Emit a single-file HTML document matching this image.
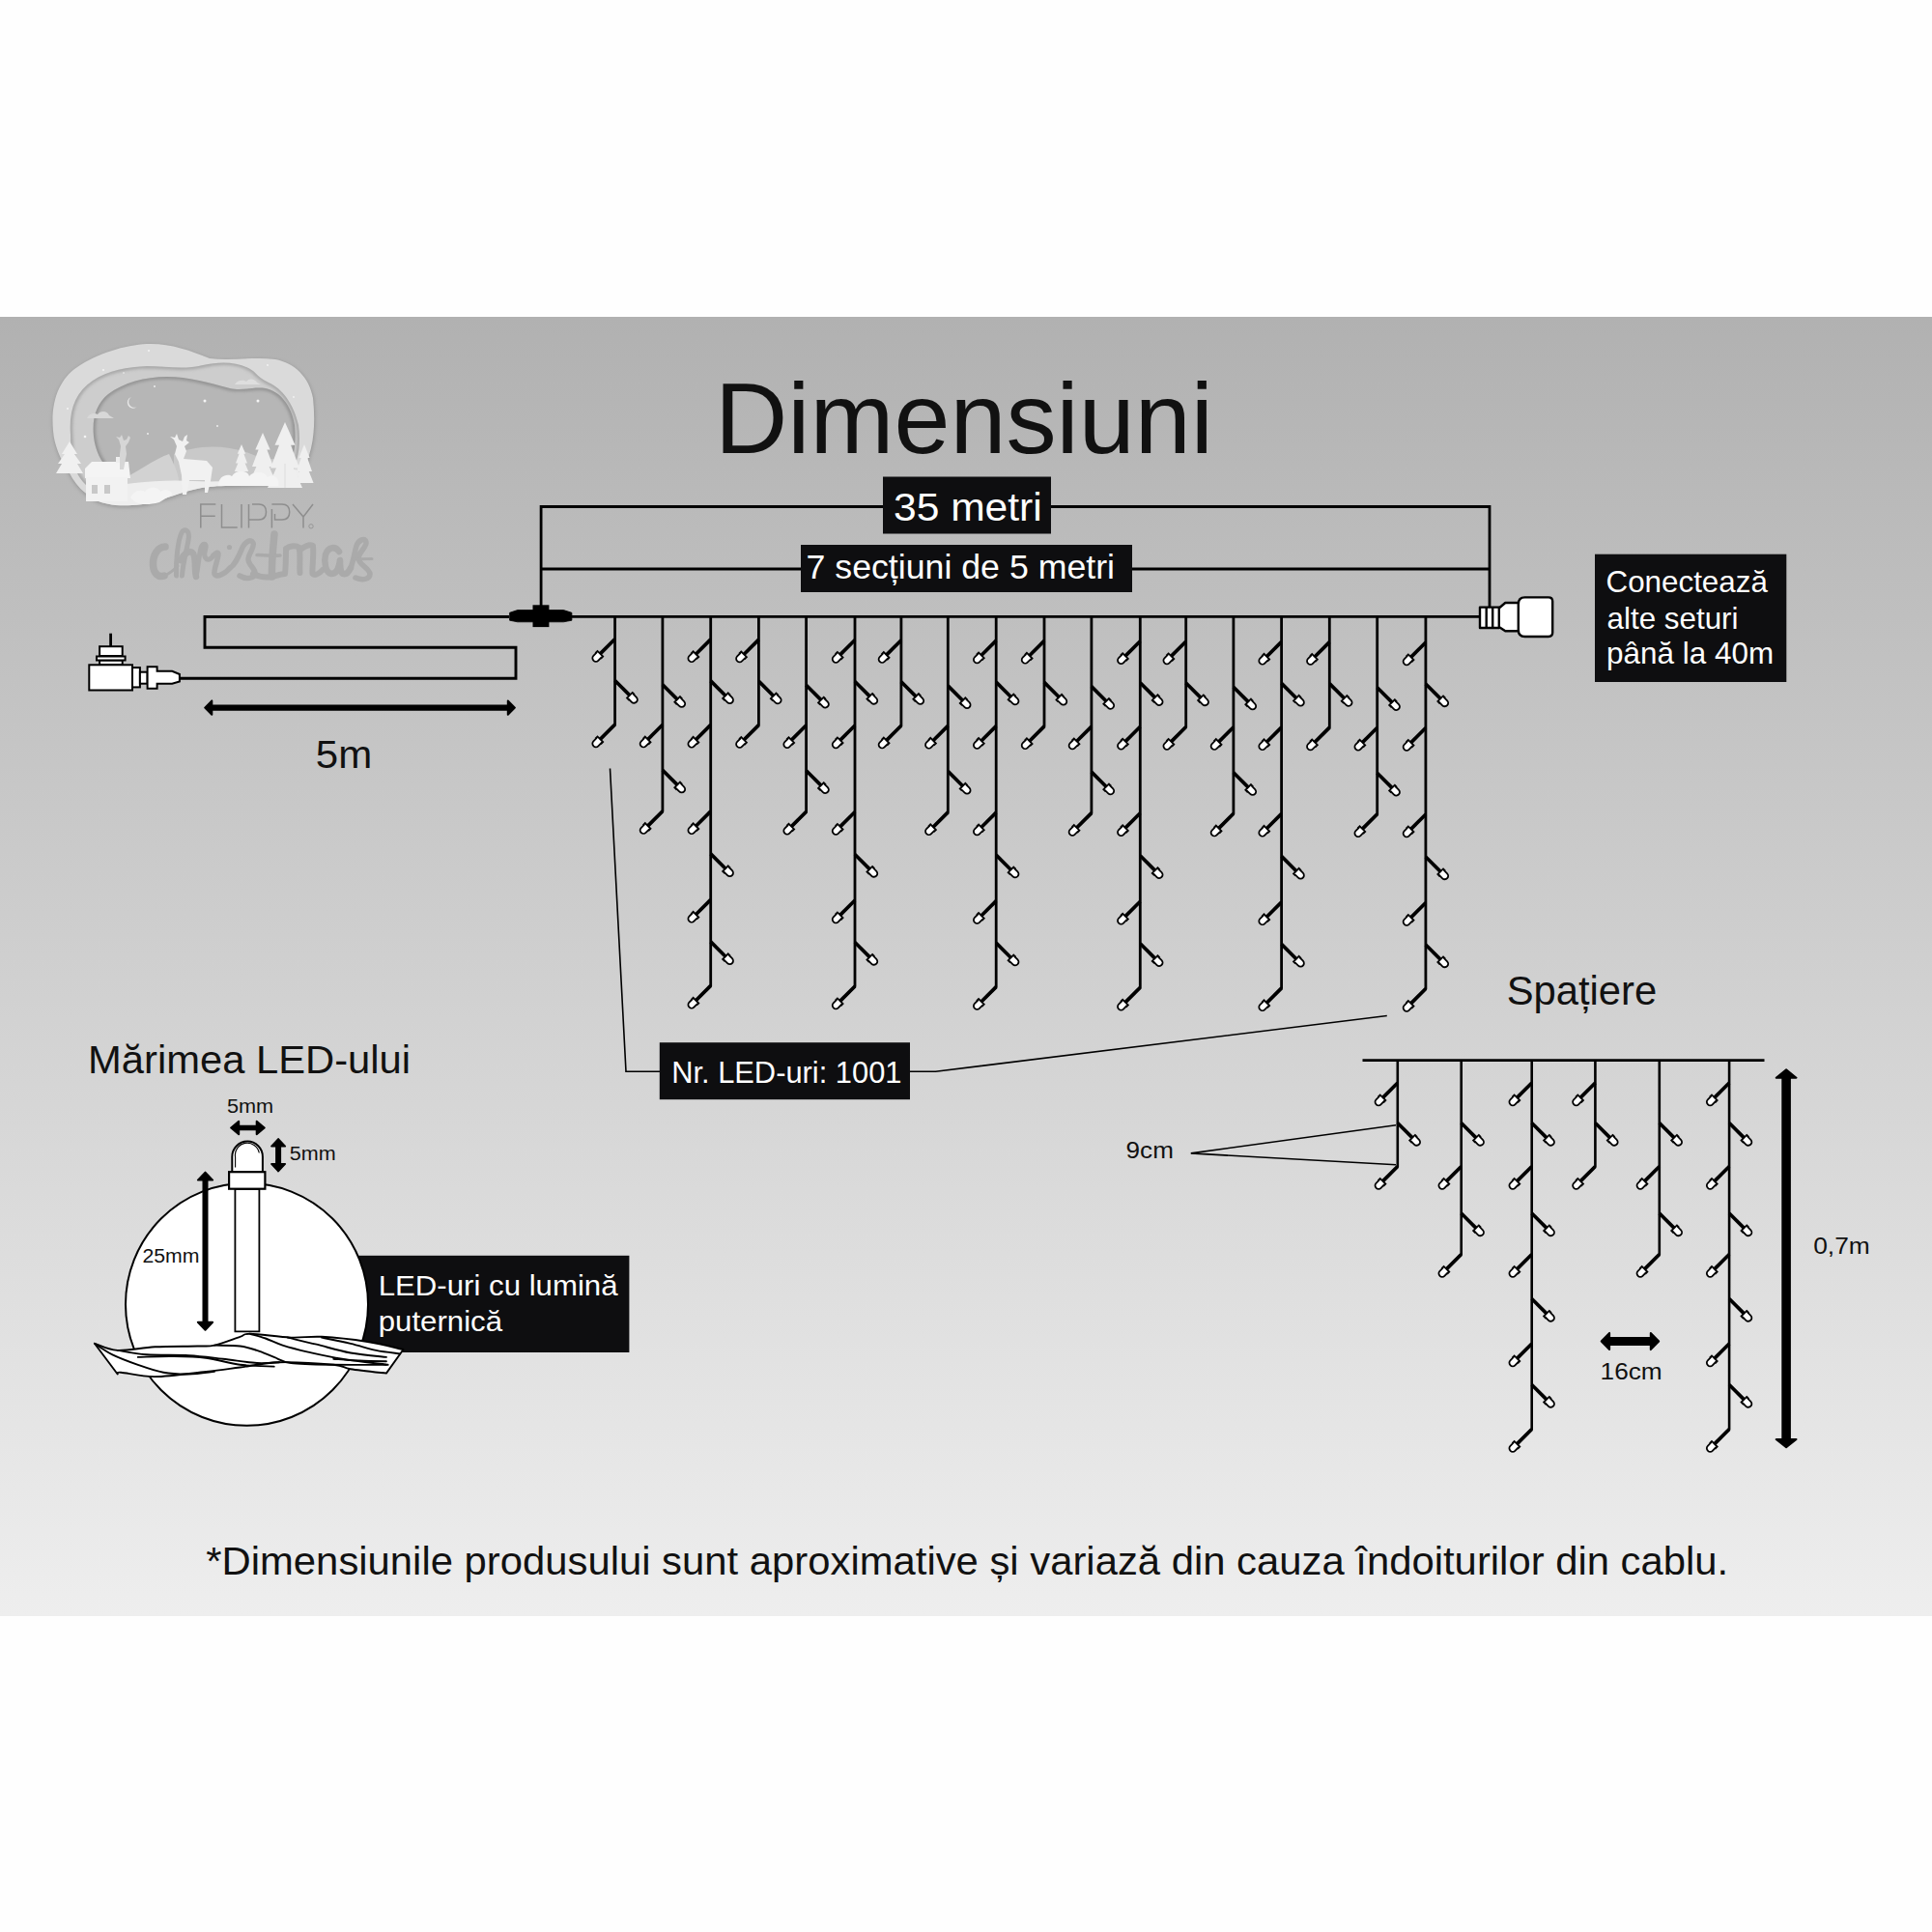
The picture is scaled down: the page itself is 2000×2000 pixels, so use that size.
<!DOCTYPE html>
<html><head><meta charset="utf-8"><style>
html,body{margin:0;padding:0;background:#fefefe;}
svg{display:block;}
text{font-family:"Liberation Sans", sans-serif;}
</style></head><body>
<svg width="2000" height="2000" viewBox="0 0 2000 2000">
<defs><linearGradient id="bg" x1="0" y1="0" x2="0" y2="1"><stop offset="0" stop-color="#b1b1b1"/><stop offset="1" stop-color="#eeeeee"/></linearGradient></defs><rect x="0" y="0" width="2000" height="2000" fill="#fefefe"/><rect x="0" y="328" width="2000" height="1345" fill="url(#bg)"/><text x="740.04" y="469.0" font-size="103.5" fill="#111" textLength="515.87" lengthAdjust="spacingAndGlyphs">Dimensiuni</text><path d="M560.1,638 V524.5 H1542 V630" fill="none" stroke="#000" stroke-width="2.8"/><line x1="560" y1="589" x2="1542" y2="589" stroke="#000" stroke-width="2.8"/><rect x="914" y="493.5" width="174" height="59" fill="#0e0e10"/><text x="925.02" y="538.5" font-size="41" fill="#fff" textLength="153.7" lengthAdjust="spacingAndGlyphs">35 metri</text><rect x="829" y="564" width="343" height="49" fill="#0e0e10"/><text x="834.53" y="599.0" font-size="34.5" fill="#fff" textLength="319.5" lengthAdjust="spacingAndGlyphs">7 secțiuni de 5 metri</text><path d="M527,638.5 H212 V670.3 H534 V702.2 H186" fill="none" stroke="#000" stroke-width="2.9" stroke-linejoin="miter"/><line x1="590" y1="638.4" x2="1533" y2="638.4" stroke="#000" stroke-width="2.9"/><path d="M527.6,634.3 L535.7,631.6 H583.4 L591.9,634.3 V642.2 L583.4,643.8 H535.7 L527.6,642.2 Z" fill="#000" stroke="#000" stroke-width="0.8" stroke-linejoin="round"/><rect x="551.5" y="626.3" width="16.9" height="22.8" fill="#000"/><g fill="#fff" stroke="#000" stroke-width="2"><line x1="114.6" y1="655.7" x2="114.6" y2="669" stroke-width="2.8"/><rect x="103.1" y="669.2" width="23.6" height="9.8"/><rect x="103.1" y="683.5" width="23.6" height="4.5"/><rect x="100" y="679.5" width="29.6" height="4"/><rect x="92.3" y="688.3" width="44.7" height="26.2"/><rect x="137" y="691.1" width="7.9" height="20.3"/><rect x="144.9" y="695.7" width="7.7" height="12"/><path d="M152.6,690.3 H162.6 V694.8 H178.2 L185.9,698 V705.4 L178.2,707.7 H162.6 V712.8 H152.6 Z"/></g><path d="M212.20,732.60 L219.30,725.40 L219.30,730.55 L525.80,730.55 L525.80,725.40 L532.90,732.60 L525.80,739.80 L525.80,734.65 L219.30,734.65 L219.30,739.80 Z" fill="#000" stroke="#000" stroke-width="2.0" stroke-linejoin="round"/><text x="326.82" y="795.4" font-size="40.5" fill="#111" textLength="58.43" lengthAdjust="spacingAndGlyphs">5m</text><g fill="#fff" stroke="#000" stroke-width="2.4" stroke-linejoin="round"><path d="M1578.5,618.4 H1603 Q1607.2,618.4 1607.2,622.6 V654.8 Q1607.2,659 1603,659 H1578.5 Q1571.8,659 1571.8,652 V625.4 Q1571.8,618.4 1578.5,618.4 Z"/><path d="M1551.8,629.5 L1558.3,624 H1571.8 V653.3 H1558.3 L1551.8,649 Z"/><rect x="1532" y="628.6" width="19.8" height="21.4"/><line x1="1538.7" y1="628.6" x2="1538.7" y2="650"/><line x1="1545.2" y1="628.6" x2="1545.2" y2="650"/></g><rect x="1651" y="573.7" width="198.3" height="132.3" fill="#0e0e10"/><text x="1662.54" y="612.6" font-size="30.5" fill="#fff" textLength="167.33" lengthAdjust="spacingAndGlyphs">Conectează</text><text x="1663.57" y="650.6" font-size="30.5" fill="#fff" textLength="135.92" lengthAdjust="spacingAndGlyphs">alte seturi</text><text x="1663.14" y="687.1" font-size="30.5" fill="#fff" textLength="172.99" lengthAdjust="spacingAndGlyphs">până la 40m</text><path d="M636.6,638.3 V750.0 L621.6,765.0" fill="none" stroke="#000" stroke-width="2.8" stroke-linejoin="miter"/><g transform="translate(636.6,661.5) rotate(135)"><line x1="0" y1="0" x2="22.1" y2="0" stroke="#000" stroke-width="3.7"/><path d="M21.6,-4 h2.2 V-3.5 h4.2 a3.4,3.4 0 0 1 3.4,3.4 V-0.1 a3.4,3.4 0 0 1 -3.4,3.6 h-4.2 V4 h-2.2 Z" fill="#fff" stroke="#000" stroke-width="1.8" stroke-linejoin="miter"/></g><g transform="translate(636.6,704.5) rotate(45)"><line x1="0" y1="0" x2="22.1" y2="0" stroke="#000" stroke-width="3.7"/><path d="M21.6,-4 h2.2 V-3.5 h4.2 a3.4,3.4 0 0 1 3.4,3.4 V-0.1 a3.4,3.4 0 0 1 -3.4,3.6 h-4.2 V4 h-2.2 Z" fill="#fff" stroke="#000" stroke-width="1.8" stroke-linejoin="miter"/></g><g transform="translate(636.6,750.0) rotate(135)"><line x1="0" y1="0" x2="22.1" y2="0" stroke="#000" stroke-width="3.7"/><path d="M21.6,-4 h2.2 V-3.5 h4.2 a3.4,3.4 0 0 1 3.4,3.4 V-0.1 a3.4,3.4 0 0 1 -3.4,3.6 h-4.2 V4 h-2.2 Z" fill="#fff" stroke="#000" stroke-width="1.8" stroke-linejoin="miter"/></g><path d="M685.9,638.3 V839.7 L670.9,854.7" fill="none" stroke="#000" stroke-width="2.8" stroke-linejoin="miter"/><g transform="translate(685.9,708.7) rotate(45)"><line x1="0" y1="0" x2="22.1" y2="0" stroke="#000" stroke-width="3.7"/><path d="M21.6,-4 h2.2 V-3.5 h4.2 a3.4,3.4 0 0 1 3.4,3.4 V-0.1 a3.4,3.4 0 0 1 -3.4,3.6 h-4.2 V4 h-2.2 Z" fill="#fff" stroke="#000" stroke-width="1.8" stroke-linejoin="miter"/></g><g transform="translate(685.9,750.2) rotate(135)"><line x1="0" y1="0" x2="22.1" y2="0" stroke="#000" stroke-width="3.7"/><path d="M21.6,-4 h2.2 V-3.5 h4.2 a3.4,3.4 0 0 1 3.4,3.4 V-0.1 a3.4,3.4 0 0 1 -3.4,3.6 h-4.2 V4 h-2.2 Z" fill="#fff" stroke="#000" stroke-width="1.8" stroke-linejoin="miter"/></g><g transform="translate(685.9,797.2) rotate(45)"><line x1="0" y1="0" x2="22.1" y2="0" stroke="#000" stroke-width="3.7"/><path d="M21.6,-4 h2.2 V-3.5 h4.2 a3.4,3.4 0 0 1 3.4,3.4 V-0.1 a3.4,3.4 0 0 1 -3.4,3.6 h-4.2 V4 h-2.2 Z" fill="#fff" stroke="#000" stroke-width="1.8" stroke-linejoin="miter"/></g><g transform="translate(685.9,839.7) rotate(135)"><line x1="0" y1="0" x2="22.1" y2="0" stroke="#000" stroke-width="3.7"/><path d="M21.6,-4 h2.2 V-3.5 h4.2 a3.4,3.4 0 0 1 3.4,3.4 V-0.1 a3.4,3.4 0 0 1 -3.4,3.6 h-4.2 V4 h-2.2 Z" fill="#fff" stroke="#000" stroke-width="1.8" stroke-linejoin="miter"/></g><path d="M735.7,638.3 V1020.4 L720.7,1035.4" fill="none" stroke="#000" stroke-width="2.8" stroke-linejoin="miter"/><g transform="translate(735.7,661.9) rotate(135)"><line x1="0" y1="0" x2="22.1" y2="0" stroke="#000" stroke-width="3.7"/><path d="M21.6,-4 h2.2 V-3.5 h4.2 a3.4,3.4 0 0 1 3.4,3.4 V-0.1 a3.4,3.4 0 0 1 -3.4,3.6 h-4.2 V4 h-2.2 Z" fill="#fff" stroke="#000" stroke-width="1.8" stroke-linejoin="miter"/></g><g transform="translate(735.7,704.9) rotate(45)"><line x1="0" y1="0" x2="22.1" y2="0" stroke="#000" stroke-width="3.7"/><path d="M21.6,-4 h2.2 V-3.5 h4.2 a3.4,3.4 0 0 1 3.4,3.4 V-0.1 a3.4,3.4 0 0 1 -3.4,3.6 h-4.2 V4 h-2.2 Z" fill="#fff" stroke="#000" stroke-width="1.8" stroke-linejoin="miter"/></g><g transform="translate(735.7,750.4) rotate(135)"><line x1="0" y1="0" x2="22.1" y2="0" stroke="#000" stroke-width="3.7"/><path d="M21.6,-4 h2.2 V-3.5 h4.2 a3.4,3.4 0 0 1 3.4,3.4 V-0.1 a3.4,3.4 0 0 1 -3.4,3.6 h-4.2 V4 h-2.2 Z" fill="#fff" stroke="#000" stroke-width="1.8" stroke-linejoin="miter"/></g><g transform="translate(735.7,839.9) rotate(135)"><line x1="0" y1="0" x2="22.1" y2="0" stroke="#000" stroke-width="3.7"/><path d="M21.6,-4 h2.2 V-3.5 h4.2 a3.4,3.4 0 0 1 3.4,3.4 V-0.1 a3.4,3.4 0 0 1 -3.4,3.6 h-4.2 V4 h-2.2 Z" fill="#fff" stroke="#000" stroke-width="1.8" stroke-linejoin="miter"/></g><g transform="translate(735.7,883.9) rotate(45)"><line x1="0" y1="0" x2="22.1" y2="0" stroke="#000" stroke-width="3.7"/><path d="M21.6,-4 h2.2 V-3.5 h4.2 a3.4,3.4 0 0 1 3.4,3.4 V-0.1 a3.4,3.4 0 0 1 -3.4,3.6 h-4.2 V4 h-2.2 Z" fill="#fff" stroke="#000" stroke-width="1.8" stroke-linejoin="miter"/></g><g transform="translate(735.7,931.4) rotate(135)"><line x1="0" y1="0" x2="22.1" y2="0" stroke="#000" stroke-width="3.7"/><path d="M21.6,-4 h2.2 V-3.5 h4.2 a3.4,3.4 0 0 1 3.4,3.4 V-0.1 a3.4,3.4 0 0 1 -3.4,3.6 h-4.2 V4 h-2.2 Z" fill="#fff" stroke="#000" stroke-width="1.8" stroke-linejoin="miter"/></g><g transform="translate(735.7,974.9) rotate(45)"><line x1="0" y1="0" x2="22.1" y2="0" stroke="#000" stroke-width="3.7"/><path d="M21.6,-4 h2.2 V-3.5 h4.2 a3.4,3.4 0 0 1 3.4,3.4 V-0.1 a3.4,3.4 0 0 1 -3.4,3.6 h-4.2 V4 h-2.2 Z" fill="#fff" stroke="#000" stroke-width="1.8" stroke-linejoin="miter"/></g><g transform="translate(735.7,1020.4) rotate(135)"><line x1="0" y1="0" x2="22.1" y2="0" stroke="#000" stroke-width="3.7"/><path d="M21.6,-4 h2.2 V-3.5 h4.2 a3.4,3.4 0 0 1 3.4,3.4 V-0.1 a3.4,3.4 0 0 1 -3.4,3.6 h-4.2 V4 h-2.2 Z" fill="#fff" stroke="#000" stroke-width="1.8" stroke-linejoin="miter"/></g><path d="M785.4,638.3 V750.6 L770.4,765.6" fill="none" stroke="#000" stroke-width="2.8" stroke-linejoin="miter"/><g transform="translate(785.4,662.1) rotate(135)"><line x1="0" y1="0" x2="22.1" y2="0" stroke="#000" stroke-width="3.7"/><path d="M21.6,-4 h2.2 V-3.5 h4.2 a3.4,3.4 0 0 1 3.4,3.4 V-0.1 a3.4,3.4 0 0 1 -3.4,3.6 h-4.2 V4 h-2.2 Z" fill="#fff" stroke="#000" stroke-width="1.8" stroke-linejoin="miter"/></g><g transform="translate(785.4,705.1) rotate(45)"><line x1="0" y1="0" x2="22.1" y2="0" stroke="#000" stroke-width="3.7"/><path d="M21.6,-4 h2.2 V-3.5 h4.2 a3.4,3.4 0 0 1 3.4,3.4 V-0.1 a3.4,3.4 0 0 1 -3.4,3.6 h-4.2 V4 h-2.2 Z" fill="#fff" stroke="#000" stroke-width="1.8" stroke-linejoin="miter"/></g><g transform="translate(785.4,750.6) rotate(135)"><line x1="0" y1="0" x2="22.1" y2="0" stroke="#000" stroke-width="3.7"/><path d="M21.6,-4 h2.2 V-3.5 h4.2 a3.4,3.4 0 0 1 3.4,3.4 V-0.1 a3.4,3.4 0 0 1 -3.4,3.6 h-4.2 V4 h-2.2 Z" fill="#fff" stroke="#000" stroke-width="1.8" stroke-linejoin="miter"/></g><path d="M834.6,638.3 V840.3 L819.6,855.3" fill="none" stroke="#000" stroke-width="2.8" stroke-linejoin="miter"/><g transform="translate(834.6,709.3) rotate(45)"><line x1="0" y1="0" x2="22.1" y2="0" stroke="#000" stroke-width="3.7"/><path d="M21.6,-4 h2.2 V-3.5 h4.2 a3.4,3.4 0 0 1 3.4,3.4 V-0.1 a3.4,3.4 0 0 1 -3.4,3.6 h-4.2 V4 h-2.2 Z" fill="#fff" stroke="#000" stroke-width="1.8" stroke-linejoin="miter"/></g><g transform="translate(834.6,750.8) rotate(135)"><line x1="0" y1="0" x2="22.1" y2="0" stroke="#000" stroke-width="3.7"/><path d="M21.6,-4 h2.2 V-3.5 h4.2 a3.4,3.4 0 0 1 3.4,3.4 V-0.1 a3.4,3.4 0 0 1 -3.4,3.6 h-4.2 V4 h-2.2 Z" fill="#fff" stroke="#000" stroke-width="1.8" stroke-linejoin="miter"/></g><g transform="translate(834.6,797.8) rotate(45)"><line x1="0" y1="0" x2="22.1" y2="0" stroke="#000" stroke-width="3.7"/><path d="M21.6,-4 h2.2 V-3.5 h4.2 a3.4,3.4 0 0 1 3.4,3.4 V-0.1 a3.4,3.4 0 0 1 -3.4,3.6 h-4.2 V4 h-2.2 Z" fill="#fff" stroke="#000" stroke-width="1.8" stroke-linejoin="miter"/></g><g transform="translate(834.6,840.3) rotate(135)"><line x1="0" y1="0" x2="22.1" y2="0" stroke="#000" stroke-width="3.7"/><path d="M21.6,-4 h2.2 V-3.5 h4.2 a3.4,3.4 0 0 1 3.4,3.4 V-0.1 a3.4,3.4 0 0 1 -3.4,3.6 h-4.2 V4 h-2.2 Z" fill="#fff" stroke="#000" stroke-width="1.8" stroke-linejoin="miter"/></g><path d="M885.0,638.3 V1021.0 L870.0,1036.0" fill="none" stroke="#000" stroke-width="2.8" stroke-linejoin="miter"/><g transform="translate(885.0,662.5) rotate(135)"><line x1="0" y1="0" x2="22.1" y2="0" stroke="#000" stroke-width="3.7"/><path d="M21.6,-4 h2.2 V-3.5 h4.2 a3.4,3.4 0 0 1 3.4,3.4 V-0.1 a3.4,3.4 0 0 1 -3.4,3.6 h-4.2 V4 h-2.2 Z" fill="#fff" stroke="#000" stroke-width="1.8" stroke-linejoin="miter"/></g><g transform="translate(885.0,705.5) rotate(45)"><line x1="0" y1="0" x2="22.1" y2="0" stroke="#000" stroke-width="3.7"/><path d="M21.6,-4 h2.2 V-3.5 h4.2 a3.4,3.4 0 0 1 3.4,3.4 V-0.1 a3.4,3.4 0 0 1 -3.4,3.6 h-4.2 V4 h-2.2 Z" fill="#fff" stroke="#000" stroke-width="1.8" stroke-linejoin="miter"/></g><g transform="translate(885.0,751.0) rotate(135)"><line x1="0" y1="0" x2="22.1" y2="0" stroke="#000" stroke-width="3.7"/><path d="M21.6,-4 h2.2 V-3.5 h4.2 a3.4,3.4 0 0 1 3.4,3.4 V-0.1 a3.4,3.4 0 0 1 -3.4,3.6 h-4.2 V4 h-2.2 Z" fill="#fff" stroke="#000" stroke-width="1.8" stroke-linejoin="miter"/></g><g transform="translate(885.0,840.5) rotate(135)"><line x1="0" y1="0" x2="22.1" y2="0" stroke="#000" stroke-width="3.7"/><path d="M21.6,-4 h2.2 V-3.5 h4.2 a3.4,3.4 0 0 1 3.4,3.4 V-0.1 a3.4,3.4 0 0 1 -3.4,3.6 h-4.2 V4 h-2.2 Z" fill="#fff" stroke="#000" stroke-width="1.8" stroke-linejoin="miter"/></g><g transform="translate(885.0,884.5) rotate(45)"><line x1="0" y1="0" x2="22.1" y2="0" stroke="#000" stroke-width="3.7"/><path d="M21.6,-4 h2.2 V-3.5 h4.2 a3.4,3.4 0 0 1 3.4,3.4 V-0.1 a3.4,3.4 0 0 1 -3.4,3.6 h-4.2 V4 h-2.2 Z" fill="#fff" stroke="#000" stroke-width="1.8" stroke-linejoin="miter"/></g><g transform="translate(885.0,932.0) rotate(135)"><line x1="0" y1="0" x2="22.1" y2="0" stroke="#000" stroke-width="3.7"/><path d="M21.6,-4 h2.2 V-3.5 h4.2 a3.4,3.4 0 0 1 3.4,3.4 V-0.1 a3.4,3.4 0 0 1 -3.4,3.6 h-4.2 V4 h-2.2 Z" fill="#fff" stroke="#000" stroke-width="1.8" stroke-linejoin="miter"/></g><g transform="translate(885.0,975.5) rotate(45)"><line x1="0" y1="0" x2="22.1" y2="0" stroke="#000" stroke-width="3.7"/><path d="M21.6,-4 h2.2 V-3.5 h4.2 a3.4,3.4 0 0 1 3.4,3.4 V-0.1 a3.4,3.4 0 0 1 -3.4,3.6 h-4.2 V4 h-2.2 Z" fill="#fff" stroke="#000" stroke-width="1.8" stroke-linejoin="miter"/></g><g transform="translate(885.0,1021.0) rotate(135)"><line x1="0" y1="0" x2="22.1" y2="0" stroke="#000" stroke-width="3.7"/><path d="M21.6,-4 h2.2 V-3.5 h4.2 a3.4,3.4 0 0 1 3.4,3.4 V-0.1 a3.4,3.4 0 0 1 -3.4,3.6 h-4.2 V4 h-2.2 Z" fill="#fff" stroke="#000" stroke-width="1.8" stroke-linejoin="miter"/></g><path d="M932.9,638.3 V751.2 L917.9,766.2" fill="none" stroke="#000" stroke-width="2.8" stroke-linejoin="miter"/><g transform="translate(932.9,662.7) rotate(135)"><line x1="0" y1="0" x2="22.1" y2="0" stroke="#000" stroke-width="3.7"/><path d="M21.6,-4 h2.2 V-3.5 h4.2 a3.4,3.4 0 0 1 3.4,3.4 V-0.1 a3.4,3.4 0 0 1 -3.4,3.6 h-4.2 V4 h-2.2 Z" fill="#fff" stroke="#000" stroke-width="1.8" stroke-linejoin="miter"/></g><g transform="translate(932.9,705.7) rotate(45)"><line x1="0" y1="0" x2="22.1" y2="0" stroke="#000" stroke-width="3.7"/><path d="M21.6,-4 h2.2 V-3.5 h4.2 a3.4,3.4 0 0 1 3.4,3.4 V-0.1 a3.4,3.4 0 0 1 -3.4,3.6 h-4.2 V4 h-2.2 Z" fill="#fff" stroke="#000" stroke-width="1.8" stroke-linejoin="miter"/></g><g transform="translate(932.9,751.2) rotate(135)"><line x1="0" y1="0" x2="22.1" y2="0" stroke="#000" stroke-width="3.7"/><path d="M21.6,-4 h2.2 V-3.5 h4.2 a3.4,3.4 0 0 1 3.4,3.4 V-0.1 a3.4,3.4 0 0 1 -3.4,3.6 h-4.2 V4 h-2.2 Z" fill="#fff" stroke="#000" stroke-width="1.8" stroke-linejoin="miter"/></g><path d="M981.3,638.3 V840.9 L966.3,855.9" fill="none" stroke="#000" stroke-width="2.8" stroke-linejoin="miter"/><g transform="translate(981.3,709.9) rotate(45)"><line x1="0" y1="0" x2="22.1" y2="0" stroke="#000" stroke-width="3.7"/><path d="M21.6,-4 h2.2 V-3.5 h4.2 a3.4,3.4 0 0 1 3.4,3.4 V-0.1 a3.4,3.4 0 0 1 -3.4,3.6 h-4.2 V4 h-2.2 Z" fill="#fff" stroke="#000" stroke-width="1.8" stroke-linejoin="miter"/></g><g transform="translate(981.3,751.4) rotate(135)"><line x1="0" y1="0" x2="22.1" y2="0" stroke="#000" stroke-width="3.7"/><path d="M21.6,-4 h2.2 V-3.5 h4.2 a3.4,3.4 0 0 1 3.4,3.4 V-0.1 a3.4,3.4 0 0 1 -3.4,3.6 h-4.2 V4 h-2.2 Z" fill="#fff" stroke="#000" stroke-width="1.8" stroke-linejoin="miter"/></g><g transform="translate(981.3,798.4) rotate(45)"><line x1="0" y1="0" x2="22.1" y2="0" stroke="#000" stroke-width="3.7"/><path d="M21.6,-4 h2.2 V-3.5 h4.2 a3.4,3.4 0 0 1 3.4,3.4 V-0.1 a3.4,3.4 0 0 1 -3.4,3.6 h-4.2 V4 h-2.2 Z" fill="#fff" stroke="#000" stroke-width="1.8" stroke-linejoin="miter"/></g><g transform="translate(981.3,840.9) rotate(135)"><line x1="0" y1="0" x2="22.1" y2="0" stroke="#000" stroke-width="3.7"/><path d="M21.6,-4 h2.2 V-3.5 h4.2 a3.4,3.4 0 0 1 3.4,3.4 V-0.1 a3.4,3.4 0 0 1 -3.4,3.6 h-4.2 V4 h-2.2 Z" fill="#fff" stroke="#000" stroke-width="1.8" stroke-linejoin="miter"/></g><path d="M1031.2,638.3 V1021.6 L1016.2,1036.6" fill="none" stroke="#000" stroke-width="2.8" stroke-linejoin="miter"/><g transform="translate(1031.2,663.1) rotate(135)"><line x1="0" y1="0" x2="22.1" y2="0" stroke="#000" stroke-width="3.7"/><path d="M21.6,-4 h2.2 V-3.5 h4.2 a3.4,3.4 0 0 1 3.4,3.4 V-0.1 a3.4,3.4 0 0 1 -3.4,3.6 h-4.2 V4 h-2.2 Z" fill="#fff" stroke="#000" stroke-width="1.8" stroke-linejoin="miter"/></g><g transform="translate(1031.2,706.1) rotate(45)"><line x1="0" y1="0" x2="22.1" y2="0" stroke="#000" stroke-width="3.7"/><path d="M21.6,-4 h2.2 V-3.5 h4.2 a3.4,3.4 0 0 1 3.4,3.4 V-0.1 a3.4,3.4 0 0 1 -3.4,3.6 h-4.2 V4 h-2.2 Z" fill="#fff" stroke="#000" stroke-width="1.8" stroke-linejoin="miter"/></g><g transform="translate(1031.2,751.6) rotate(135)"><line x1="0" y1="0" x2="22.1" y2="0" stroke="#000" stroke-width="3.7"/><path d="M21.6,-4 h2.2 V-3.5 h4.2 a3.4,3.4 0 0 1 3.4,3.4 V-0.1 a3.4,3.4 0 0 1 -3.4,3.6 h-4.2 V4 h-2.2 Z" fill="#fff" stroke="#000" stroke-width="1.8" stroke-linejoin="miter"/></g><g transform="translate(1031.2,841.1) rotate(135)"><line x1="0" y1="0" x2="22.1" y2="0" stroke="#000" stroke-width="3.7"/><path d="M21.6,-4 h2.2 V-3.5 h4.2 a3.4,3.4 0 0 1 3.4,3.4 V-0.1 a3.4,3.4 0 0 1 -3.4,3.6 h-4.2 V4 h-2.2 Z" fill="#fff" stroke="#000" stroke-width="1.8" stroke-linejoin="miter"/></g><g transform="translate(1031.2,885.1) rotate(45)"><line x1="0" y1="0" x2="22.1" y2="0" stroke="#000" stroke-width="3.7"/><path d="M21.6,-4 h2.2 V-3.5 h4.2 a3.4,3.4 0 0 1 3.4,3.4 V-0.1 a3.4,3.4 0 0 1 -3.4,3.6 h-4.2 V4 h-2.2 Z" fill="#fff" stroke="#000" stroke-width="1.8" stroke-linejoin="miter"/></g><g transform="translate(1031.2,932.6) rotate(135)"><line x1="0" y1="0" x2="22.1" y2="0" stroke="#000" stroke-width="3.7"/><path d="M21.6,-4 h2.2 V-3.5 h4.2 a3.4,3.4 0 0 1 3.4,3.4 V-0.1 a3.4,3.4 0 0 1 -3.4,3.6 h-4.2 V4 h-2.2 Z" fill="#fff" stroke="#000" stroke-width="1.8" stroke-linejoin="miter"/></g><g transform="translate(1031.2,976.1) rotate(45)"><line x1="0" y1="0" x2="22.1" y2="0" stroke="#000" stroke-width="3.7"/><path d="M21.6,-4 h2.2 V-3.5 h4.2 a3.4,3.4 0 0 1 3.4,3.4 V-0.1 a3.4,3.4 0 0 1 -3.4,3.6 h-4.2 V4 h-2.2 Z" fill="#fff" stroke="#000" stroke-width="1.8" stroke-linejoin="miter"/></g><g transform="translate(1031.2,1021.6) rotate(135)"><line x1="0" y1="0" x2="22.1" y2="0" stroke="#000" stroke-width="3.7"/><path d="M21.6,-4 h2.2 V-3.5 h4.2 a3.4,3.4 0 0 1 3.4,3.4 V-0.1 a3.4,3.4 0 0 1 -3.4,3.6 h-4.2 V4 h-2.2 Z" fill="#fff" stroke="#000" stroke-width="1.8" stroke-linejoin="miter"/></g><path d="M1081.0,638.3 V751.9 L1066.0,766.9" fill="none" stroke="#000" stroke-width="2.8" stroke-linejoin="miter"/><g transform="translate(1081.0,663.4) rotate(135)"><line x1="0" y1="0" x2="22.1" y2="0" stroke="#000" stroke-width="3.7"/><path d="M21.6,-4 h2.2 V-3.5 h4.2 a3.4,3.4 0 0 1 3.4,3.4 V-0.1 a3.4,3.4 0 0 1 -3.4,3.6 h-4.2 V4 h-2.2 Z" fill="#fff" stroke="#000" stroke-width="1.8" stroke-linejoin="miter"/></g><g transform="translate(1081.0,706.4) rotate(45)"><line x1="0" y1="0" x2="22.1" y2="0" stroke="#000" stroke-width="3.7"/><path d="M21.6,-4 h2.2 V-3.5 h4.2 a3.4,3.4 0 0 1 3.4,3.4 V-0.1 a3.4,3.4 0 0 1 -3.4,3.6 h-4.2 V4 h-2.2 Z" fill="#fff" stroke="#000" stroke-width="1.8" stroke-linejoin="miter"/></g><g transform="translate(1081.0,751.9) rotate(135)"><line x1="0" y1="0" x2="22.1" y2="0" stroke="#000" stroke-width="3.7"/><path d="M21.6,-4 h2.2 V-3.5 h4.2 a3.4,3.4 0 0 1 3.4,3.4 V-0.1 a3.4,3.4 0 0 1 -3.4,3.6 h-4.2 V4 h-2.2 Z" fill="#fff" stroke="#000" stroke-width="1.8" stroke-linejoin="miter"/></g><path d="M1129.9,638.3 V841.6 L1114.9,856.6" fill="none" stroke="#000" stroke-width="2.8" stroke-linejoin="miter"/><g transform="translate(1129.9,710.6) rotate(45)"><line x1="0" y1="0" x2="22.1" y2="0" stroke="#000" stroke-width="3.7"/><path d="M21.6,-4 h2.2 V-3.5 h4.2 a3.4,3.4 0 0 1 3.4,3.4 V-0.1 a3.4,3.4 0 0 1 -3.4,3.6 h-4.2 V4 h-2.2 Z" fill="#fff" stroke="#000" stroke-width="1.8" stroke-linejoin="miter"/></g><g transform="translate(1129.9,752.1) rotate(135)"><line x1="0" y1="0" x2="22.1" y2="0" stroke="#000" stroke-width="3.7"/><path d="M21.6,-4 h2.2 V-3.5 h4.2 a3.4,3.4 0 0 1 3.4,3.4 V-0.1 a3.4,3.4 0 0 1 -3.4,3.6 h-4.2 V4 h-2.2 Z" fill="#fff" stroke="#000" stroke-width="1.8" stroke-linejoin="miter"/></g><g transform="translate(1129.9,799.1) rotate(45)"><line x1="0" y1="0" x2="22.1" y2="0" stroke="#000" stroke-width="3.7"/><path d="M21.6,-4 h2.2 V-3.5 h4.2 a3.4,3.4 0 0 1 3.4,3.4 V-0.1 a3.4,3.4 0 0 1 -3.4,3.6 h-4.2 V4 h-2.2 Z" fill="#fff" stroke="#000" stroke-width="1.8" stroke-linejoin="miter"/></g><g transform="translate(1129.9,841.6) rotate(135)"><line x1="0" y1="0" x2="22.1" y2="0" stroke="#000" stroke-width="3.7"/><path d="M21.6,-4 h2.2 V-3.5 h4.2 a3.4,3.4 0 0 1 3.4,3.4 V-0.1 a3.4,3.4 0 0 1 -3.4,3.6 h-4.2 V4 h-2.2 Z" fill="#fff" stroke="#000" stroke-width="1.8" stroke-linejoin="miter"/></g><path d="M1180.3,638.3 V1022.3 L1165.3,1037.3" fill="none" stroke="#000" stroke-width="2.8" stroke-linejoin="miter"/><g transform="translate(1180.3,663.8) rotate(135)"><line x1="0" y1="0" x2="22.1" y2="0" stroke="#000" stroke-width="3.7"/><path d="M21.6,-4 h2.2 V-3.5 h4.2 a3.4,3.4 0 0 1 3.4,3.4 V-0.1 a3.4,3.4 0 0 1 -3.4,3.6 h-4.2 V4 h-2.2 Z" fill="#fff" stroke="#000" stroke-width="1.8" stroke-linejoin="miter"/></g><g transform="translate(1180.3,706.8) rotate(45)"><line x1="0" y1="0" x2="22.1" y2="0" stroke="#000" stroke-width="3.7"/><path d="M21.6,-4 h2.2 V-3.5 h4.2 a3.4,3.4 0 0 1 3.4,3.4 V-0.1 a3.4,3.4 0 0 1 -3.4,3.6 h-4.2 V4 h-2.2 Z" fill="#fff" stroke="#000" stroke-width="1.8" stroke-linejoin="miter"/></g><g transform="translate(1180.3,752.3) rotate(135)"><line x1="0" y1="0" x2="22.1" y2="0" stroke="#000" stroke-width="3.7"/><path d="M21.6,-4 h2.2 V-3.5 h4.2 a3.4,3.4 0 0 1 3.4,3.4 V-0.1 a3.4,3.4 0 0 1 -3.4,3.6 h-4.2 V4 h-2.2 Z" fill="#fff" stroke="#000" stroke-width="1.8" stroke-linejoin="miter"/></g><g transform="translate(1180.3,841.8) rotate(135)"><line x1="0" y1="0" x2="22.1" y2="0" stroke="#000" stroke-width="3.7"/><path d="M21.6,-4 h2.2 V-3.5 h4.2 a3.4,3.4 0 0 1 3.4,3.4 V-0.1 a3.4,3.4 0 0 1 -3.4,3.6 h-4.2 V4 h-2.2 Z" fill="#fff" stroke="#000" stroke-width="1.8" stroke-linejoin="miter"/></g><g transform="translate(1180.3,885.8) rotate(45)"><line x1="0" y1="0" x2="22.1" y2="0" stroke="#000" stroke-width="3.7"/><path d="M21.6,-4 h2.2 V-3.5 h4.2 a3.4,3.4 0 0 1 3.4,3.4 V-0.1 a3.4,3.4 0 0 1 -3.4,3.6 h-4.2 V4 h-2.2 Z" fill="#fff" stroke="#000" stroke-width="1.8" stroke-linejoin="miter"/></g><g transform="translate(1180.3,933.3) rotate(135)"><line x1="0" y1="0" x2="22.1" y2="0" stroke="#000" stroke-width="3.7"/><path d="M21.6,-4 h2.2 V-3.5 h4.2 a3.4,3.4 0 0 1 3.4,3.4 V-0.1 a3.4,3.4 0 0 1 -3.4,3.6 h-4.2 V4 h-2.2 Z" fill="#fff" stroke="#000" stroke-width="1.8" stroke-linejoin="miter"/></g><g transform="translate(1180.3,976.8) rotate(45)"><line x1="0" y1="0" x2="22.1" y2="0" stroke="#000" stroke-width="3.7"/><path d="M21.6,-4 h2.2 V-3.5 h4.2 a3.4,3.4 0 0 1 3.4,3.4 V-0.1 a3.4,3.4 0 0 1 -3.4,3.6 h-4.2 V4 h-2.2 Z" fill="#fff" stroke="#000" stroke-width="1.8" stroke-linejoin="miter"/></g><g transform="translate(1180.3,1022.3) rotate(135)"><line x1="0" y1="0" x2="22.1" y2="0" stroke="#000" stroke-width="3.7"/><path d="M21.6,-4 h2.2 V-3.5 h4.2 a3.4,3.4 0 0 1 3.4,3.4 V-0.1 a3.4,3.4 0 0 1 -3.4,3.6 h-4.2 V4 h-2.2 Z" fill="#fff" stroke="#000" stroke-width="1.8" stroke-linejoin="miter"/></g><path d="M1227.7,638.3 V752.5 L1212.7,767.5" fill="none" stroke="#000" stroke-width="2.8" stroke-linejoin="miter"/><g transform="translate(1227.7,664.0) rotate(135)"><line x1="0" y1="0" x2="22.1" y2="0" stroke="#000" stroke-width="3.7"/><path d="M21.6,-4 h2.2 V-3.5 h4.2 a3.4,3.4 0 0 1 3.4,3.4 V-0.1 a3.4,3.4 0 0 1 -3.4,3.6 h-4.2 V4 h-2.2 Z" fill="#fff" stroke="#000" stroke-width="1.8" stroke-linejoin="miter"/></g><g transform="translate(1227.7,707.0) rotate(45)"><line x1="0" y1="0" x2="22.1" y2="0" stroke="#000" stroke-width="3.7"/><path d="M21.6,-4 h2.2 V-3.5 h4.2 a3.4,3.4 0 0 1 3.4,3.4 V-0.1 a3.4,3.4 0 0 1 -3.4,3.6 h-4.2 V4 h-2.2 Z" fill="#fff" stroke="#000" stroke-width="1.8" stroke-linejoin="miter"/></g><g transform="translate(1227.7,752.5) rotate(135)"><line x1="0" y1="0" x2="22.1" y2="0" stroke="#000" stroke-width="3.7"/><path d="M21.6,-4 h2.2 V-3.5 h4.2 a3.4,3.4 0 0 1 3.4,3.4 V-0.1 a3.4,3.4 0 0 1 -3.4,3.6 h-4.2 V4 h-2.2 Z" fill="#fff" stroke="#000" stroke-width="1.8" stroke-linejoin="miter"/></g><path d="M1276.9,638.3 V842.2 L1261.9,857.2" fill="none" stroke="#000" stroke-width="2.8" stroke-linejoin="miter"/><g transform="translate(1276.9,711.2) rotate(45)"><line x1="0" y1="0" x2="22.1" y2="0" stroke="#000" stroke-width="3.7"/><path d="M21.6,-4 h2.2 V-3.5 h4.2 a3.4,3.4 0 0 1 3.4,3.4 V-0.1 a3.4,3.4 0 0 1 -3.4,3.6 h-4.2 V4 h-2.2 Z" fill="#fff" stroke="#000" stroke-width="1.8" stroke-linejoin="miter"/></g><g transform="translate(1276.9,752.7) rotate(135)"><line x1="0" y1="0" x2="22.1" y2="0" stroke="#000" stroke-width="3.7"/><path d="M21.6,-4 h2.2 V-3.5 h4.2 a3.4,3.4 0 0 1 3.4,3.4 V-0.1 a3.4,3.4 0 0 1 -3.4,3.6 h-4.2 V4 h-2.2 Z" fill="#fff" stroke="#000" stroke-width="1.8" stroke-linejoin="miter"/></g><g transform="translate(1276.9,799.7) rotate(45)"><line x1="0" y1="0" x2="22.1" y2="0" stroke="#000" stroke-width="3.7"/><path d="M21.6,-4 h2.2 V-3.5 h4.2 a3.4,3.4 0 0 1 3.4,3.4 V-0.1 a3.4,3.4 0 0 1 -3.4,3.6 h-4.2 V4 h-2.2 Z" fill="#fff" stroke="#000" stroke-width="1.8" stroke-linejoin="miter"/></g><g transform="translate(1276.9,842.2) rotate(135)"><line x1="0" y1="0" x2="22.1" y2="0" stroke="#000" stroke-width="3.7"/><path d="M21.6,-4 h2.2 V-3.5 h4.2 a3.4,3.4 0 0 1 3.4,3.4 V-0.1 a3.4,3.4 0 0 1 -3.4,3.6 h-4.2 V4 h-2.2 Z" fill="#fff" stroke="#000" stroke-width="1.8" stroke-linejoin="miter"/></g><path d="M1326.6,638.3 V1022.9 L1311.6,1037.9" fill="none" stroke="#000" stroke-width="2.8" stroke-linejoin="miter"/><g transform="translate(1326.6,664.4) rotate(135)"><line x1="0" y1="0" x2="22.1" y2="0" stroke="#000" stroke-width="3.7"/><path d="M21.6,-4 h2.2 V-3.5 h4.2 a3.4,3.4 0 0 1 3.4,3.4 V-0.1 a3.4,3.4 0 0 1 -3.4,3.6 h-4.2 V4 h-2.2 Z" fill="#fff" stroke="#000" stroke-width="1.8" stroke-linejoin="miter"/></g><g transform="translate(1326.6,707.4) rotate(45)"><line x1="0" y1="0" x2="22.1" y2="0" stroke="#000" stroke-width="3.7"/><path d="M21.6,-4 h2.2 V-3.5 h4.2 a3.4,3.4 0 0 1 3.4,3.4 V-0.1 a3.4,3.4 0 0 1 -3.4,3.6 h-4.2 V4 h-2.2 Z" fill="#fff" stroke="#000" stroke-width="1.8" stroke-linejoin="miter"/></g><g transform="translate(1326.6,752.9) rotate(135)"><line x1="0" y1="0" x2="22.1" y2="0" stroke="#000" stroke-width="3.7"/><path d="M21.6,-4 h2.2 V-3.5 h4.2 a3.4,3.4 0 0 1 3.4,3.4 V-0.1 a3.4,3.4 0 0 1 -3.4,3.6 h-4.2 V4 h-2.2 Z" fill="#fff" stroke="#000" stroke-width="1.8" stroke-linejoin="miter"/></g><g transform="translate(1326.6,842.4) rotate(135)"><line x1="0" y1="0" x2="22.1" y2="0" stroke="#000" stroke-width="3.7"/><path d="M21.6,-4 h2.2 V-3.5 h4.2 a3.4,3.4 0 0 1 3.4,3.4 V-0.1 a3.4,3.4 0 0 1 -3.4,3.6 h-4.2 V4 h-2.2 Z" fill="#fff" stroke="#000" stroke-width="1.8" stroke-linejoin="miter"/></g><g transform="translate(1326.6,886.4) rotate(45)"><line x1="0" y1="0" x2="22.1" y2="0" stroke="#000" stroke-width="3.7"/><path d="M21.6,-4 h2.2 V-3.5 h4.2 a3.4,3.4 0 0 1 3.4,3.4 V-0.1 a3.4,3.4 0 0 1 -3.4,3.6 h-4.2 V4 h-2.2 Z" fill="#fff" stroke="#000" stroke-width="1.8" stroke-linejoin="miter"/></g><g transform="translate(1326.6,933.9) rotate(135)"><line x1="0" y1="0" x2="22.1" y2="0" stroke="#000" stroke-width="3.7"/><path d="M21.6,-4 h2.2 V-3.5 h4.2 a3.4,3.4 0 0 1 3.4,3.4 V-0.1 a3.4,3.4 0 0 1 -3.4,3.6 h-4.2 V4 h-2.2 Z" fill="#fff" stroke="#000" stroke-width="1.8" stroke-linejoin="miter"/></g><g transform="translate(1326.6,977.4) rotate(45)"><line x1="0" y1="0" x2="22.1" y2="0" stroke="#000" stroke-width="3.7"/><path d="M21.6,-4 h2.2 V-3.5 h4.2 a3.4,3.4 0 0 1 3.4,3.4 V-0.1 a3.4,3.4 0 0 1 -3.4,3.6 h-4.2 V4 h-2.2 Z" fill="#fff" stroke="#000" stroke-width="1.8" stroke-linejoin="miter"/></g><g transform="translate(1326.6,1022.9) rotate(135)"><line x1="0" y1="0" x2="22.1" y2="0" stroke="#000" stroke-width="3.7"/><path d="M21.6,-4 h2.2 V-3.5 h4.2 a3.4,3.4 0 0 1 3.4,3.4 V-0.1 a3.4,3.4 0 0 1 -3.4,3.6 h-4.2 V4 h-2.2 Z" fill="#fff" stroke="#000" stroke-width="1.8" stroke-linejoin="miter"/></g><path d="M1376.3,638.3 V753.1 L1361.3,768.1" fill="none" stroke="#000" stroke-width="2.8" stroke-linejoin="miter"/><g transform="translate(1376.3,664.6) rotate(135)"><line x1="0" y1="0" x2="22.1" y2="0" stroke="#000" stroke-width="3.7"/><path d="M21.6,-4 h2.2 V-3.5 h4.2 a3.4,3.4 0 0 1 3.4,3.4 V-0.1 a3.4,3.4 0 0 1 -3.4,3.6 h-4.2 V4 h-2.2 Z" fill="#fff" stroke="#000" stroke-width="1.8" stroke-linejoin="miter"/></g><g transform="translate(1376.3,707.6) rotate(45)"><line x1="0" y1="0" x2="22.1" y2="0" stroke="#000" stroke-width="3.7"/><path d="M21.6,-4 h2.2 V-3.5 h4.2 a3.4,3.4 0 0 1 3.4,3.4 V-0.1 a3.4,3.4 0 0 1 -3.4,3.6 h-4.2 V4 h-2.2 Z" fill="#fff" stroke="#000" stroke-width="1.8" stroke-linejoin="miter"/></g><g transform="translate(1376.3,753.1) rotate(135)"><line x1="0" y1="0" x2="22.1" y2="0" stroke="#000" stroke-width="3.7"/><path d="M21.6,-4 h2.2 V-3.5 h4.2 a3.4,3.4 0 0 1 3.4,3.4 V-0.1 a3.4,3.4 0 0 1 -3.4,3.6 h-4.2 V4 h-2.2 Z" fill="#fff" stroke="#000" stroke-width="1.8" stroke-linejoin="miter"/></g><path d="M1425.7,638.3 V842.8 L1410.7,857.8" fill="none" stroke="#000" stroke-width="2.8" stroke-linejoin="miter"/><g transform="translate(1425.7,711.8) rotate(45)"><line x1="0" y1="0" x2="22.1" y2="0" stroke="#000" stroke-width="3.7"/><path d="M21.6,-4 h2.2 V-3.5 h4.2 a3.4,3.4 0 0 1 3.4,3.4 V-0.1 a3.4,3.4 0 0 1 -3.4,3.6 h-4.2 V4 h-2.2 Z" fill="#fff" stroke="#000" stroke-width="1.8" stroke-linejoin="miter"/></g><g transform="translate(1425.7,753.3) rotate(135)"><line x1="0" y1="0" x2="22.1" y2="0" stroke="#000" stroke-width="3.7"/><path d="M21.6,-4 h2.2 V-3.5 h4.2 a3.4,3.4 0 0 1 3.4,3.4 V-0.1 a3.4,3.4 0 0 1 -3.4,3.6 h-4.2 V4 h-2.2 Z" fill="#fff" stroke="#000" stroke-width="1.8" stroke-linejoin="miter"/></g><g transform="translate(1425.7,800.3) rotate(45)"><line x1="0" y1="0" x2="22.1" y2="0" stroke="#000" stroke-width="3.7"/><path d="M21.6,-4 h2.2 V-3.5 h4.2 a3.4,3.4 0 0 1 3.4,3.4 V-0.1 a3.4,3.4 0 0 1 -3.4,3.6 h-4.2 V4 h-2.2 Z" fill="#fff" stroke="#000" stroke-width="1.8" stroke-linejoin="miter"/></g><g transform="translate(1425.7,842.8) rotate(135)"><line x1="0" y1="0" x2="22.1" y2="0" stroke="#000" stroke-width="3.7"/><path d="M21.6,-4 h2.2 V-3.5 h4.2 a3.4,3.4 0 0 1 3.4,3.4 V-0.1 a3.4,3.4 0 0 1 -3.4,3.6 h-4.2 V4 h-2.2 Z" fill="#fff" stroke="#000" stroke-width="1.8" stroke-linejoin="miter"/></g><path d="M1475.9,638.3 V1023.5 L1460.9,1038.5" fill="none" stroke="#000" stroke-width="2.8" stroke-linejoin="miter"/><g transform="translate(1475.9,665.0) rotate(135)"><line x1="0" y1="0" x2="22.1" y2="0" stroke="#000" stroke-width="3.7"/><path d="M21.6,-4 h2.2 V-3.5 h4.2 a3.4,3.4 0 0 1 3.4,3.4 V-0.1 a3.4,3.4 0 0 1 -3.4,3.6 h-4.2 V4 h-2.2 Z" fill="#fff" stroke="#000" stroke-width="1.8" stroke-linejoin="miter"/></g><g transform="translate(1475.9,708.0) rotate(45)"><line x1="0" y1="0" x2="22.1" y2="0" stroke="#000" stroke-width="3.7"/><path d="M21.6,-4 h2.2 V-3.5 h4.2 a3.4,3.4 0 0 1 3.4,3.4 V-0.1 a3.4,3.4 0 0 1 -3.4,3.6 h-4.2 V4 h-2.2 Z" fill="#fff" stroke="#000" stroke-width="1.8" stroke-linejoin="miter"/></g><g transform="translate(1475.9,753.5) rotate(135)"><line x1="0" y1="0" x2="22.1" y2="0" stroke="#000" stroke-width="3.7"/><path d="M21.6,-4 h2.2 V-3.5 h4.2 a3.4,3.4 0 0 1 3.4,3.4 V-0.1 a3.4,3.4 0 0 1 -3.4,3.6 h-4.2 V4 h-2.2 Z" fill="#fff" stroke="#000" stroke-width="1.8" stroke-linejoin="miter"/></g><g transform="translate(1475.9,843.0) rotate(135)"><line x1="0" y1="0" x2="22.1" y2="0" stroke="#000" stroke-width="3.7"/><path d="M21.6,-4 h2.2 V-3.5 h4.2 a3.4,3.4 0 0 1 3.4,3.4 V-0.1 a3.4,3.4 0 0 1 -3.4,3.6 h-4.2 V4 h-2.2 Z" fill="#fff" stroke="#000" stroke-width="1.8" stroke-linejoin="miter"/></g><g transform="translate(1475.9,887.0) rotate(45)"><line x1="0" y1="0" x2="22.1" y2="0" stroke="#000" stroke-width="3.7"/><path d="M21.6,-4 h2.2 V-3.5 h4.2 a3.4,3.4 0 0 1 3.4,3.4 V-0.1 a3.4,3.4 0 0 1 -3.4,3.6 h-4.2 V4 h-2.2 Z" fill="#fff" stroke="#000" stroke-width="1.8" stroke-linejoin="miter"/></g><g transform="translate(1475.9,934.5) rotate(135)"><line x1="0" y1="0" x2="22.1" y2="0" stroke="#000" stroke-width="3.7"/><path d="M21.6,-4 h2.2 V-3.5 h4.2 a3.4,3.4 0 0 1 3.4,3.4 V-0.1 a3.4,3.4 0 0 1 -3.4,3.6 h-4.2 V4 h-2.2 Z" fill="#fff" stroke="#000" stroke-width="1.8" stroke-linejoin="miter"/></g><g transform="translate(1475.9,978.0) rotate(45)"><line x1="0" y1="0" x2="22.1" y2="0" stroke="#000" stroke-width="3.7"/><path d="M21.6,-4 h2.2 V-3.5 h4.2 a3.4,3.4 0 0 1 3.4,3.4 V-0.1 a3.4,3.4 0 0 1 -3.4,3.6 h-4.2 V4 h-2.2 Z" fill="#fff" stroke="#000" stroke-width="1.8" stroke-linejoin="miter"/></g><g transform="translate(1475.9,1023.5) rotate(135)"><line x1="0" y1="0" x2="22.1" y2="0" stroke="#000" stroke-width="3.7"/><path d="M21.6,-4 h2.2 V-3.5 h4.2 a3.4,3.4 0 0 1 3.4,3.4 V-0.1 a3.4,3.4 0 0 1 -3.4,3.6 h-4.2 V4 h-2.2 Z" fill="#fff" stroke="#000" stroke-width="1.8" stroke-linejoin="miter"/></g><path d="M631.5,795.5 L648,1109.2 H683" fill="none" stroke="#000" stroke-width="1.6"/><path d="M942,1109.2 H968.5 L1435.8,1051.5" fill="none" stroke="#000" stroke-width="1.6"/><rect x="682.8" y="1079.2" width="259.2" height="59" fill="#0e0e10"/><text x="695.15" y="1120.5" font-size="31.4" fill="#fff" textLength="238.34" lengthAdjust="spacingAndGlyphs">Nr. LED-uri: 1001</text><text x="1559.63" y="1040.1" font-size="42.5" fill="#111" textLength="155.64" lengthAdjust="spacingAndGlyphs">Spațiere</text><line x1="1410.5" y1="1097.6" x2="1826.5" y2="1097.6" stroke="#000" stroke-width="2.6"/><path d="M1446.8,1097.6 V1207.5 L1431.8,1222.5" fill="none" stroke="#000" stroke-width="2.6" stroke-linejoin="miter"/><g transform="translate(1446.8,1121.0) rotate(135)"><line x1="0" y1="0" x2="22.1" y2="0" stroke="#000" stroke-width="3.7"/><path d="M21.6,-4 h2.2 V-3.5 h4.2 a3.4,3.4 0 0 1 3.4,3.4 V-0.1 a3.4,3.4 0 0 1 -3.4,3.6 h-4.2 V4 h-2.2 Z" fill="#fff" stroke="#000" stroke-width="1.8" stroke-linejoin="miter"/></g><g transform="translate(1446.8,1162.5) rotate(45)"><line x1="0" y1="0" x2="22.1" y2="0" stroke="#000" stroke-width="3.7"/><path d="M21.6,-4 h2.2 V-3.5 h4.2 a3.4,3.4 0 0 1 3.4,3.4 V-0.1 a3.4,3.4 0 0 1 -3.4,3.6 h-4.2 V4 h-2.2 Z" fill="#fff" stroke="#000" stroke-width="1.8" stroke-linejoin="miter"/></g><g transform="translate(1446.8,1207.5) rotate(135)"><line x1="0" y1="0" x2="22.1" y2="0" stroke="#000" stroke-width="3.7"/><path d="M21.6,-4 h2.2 V-3.5 h4.2 a3.4,3.4 0 0 1 3.4,3.4 V-0.1 a3.4,3.4 0 0 1 -3.4,3.6 h-4.2 V4 h-2.2 Z" fill="#fff" stroke="#000" stroke-width="1.8" stroke-linejoin="miter"/></g><path d="M1512.7,1097.6 V1298.5 L1497.7,1313.5" fill="none" stroke="#000" stroke-width="2.6" stroke-linejoin="miter"/><g transform="translate(1512.7,1162.5) rotate(45)"><line x1="0" y1="0" x2="22.1" y2="0" stroke="#000" stroke-width="3.7"/><path d="M21.6,-4 h2.2 V-3.5 h4.2 a3.4,3.4 0 0 1 3.4,3.4 V-0.1 a3.4,3.4 0 0 1 -3.4,3.6 h-4.2 V4 h-2.2 Z" fill="#fff" stroke="#000" stroke-width="1.8" stroke-linejoin="miter"/></g><g transform="translate(1512.7,1207.5) rotate(135)"><line x1="0" y1="0" x2="22.1" y2="0" stroke="#000" stroke-width="3.7"/><path d="M21.6,-4 h2.2 V-3.5 h4.2 a3.4,3.4 0 0 1 3.4,3.4 V-0.1 a3.4,3.4 0 0 1 -3.4,3.6 h-4.2 V4 h-2.2 Z" fill="#fff" stroke="#000" stroke-width="1.8" stroke-linejoin="miter"/></g><g transform="translate(1512.7,1256.0) rotate(45)"><line x1="0" y1="0" x2="22.1" y2="0" stroke="#000" stroke-width="3.7"/><path d="M21.6,-4 h2.2 V-3.5 h4.2 a3.4,3.4 0 0 1 3.4,3.4 V-0.1 a3.4,3.4 0 0 1 -3.4,3.6 h-4.2 V4 h-2.2 Z" fill="#fff" stroke="#000" stroke-width="1.8" stroke-linejoin="miter"/></g><g transform="translate(1512.7,1298.5) rotate(135)"><line x1="0" y1="0" x2="22.1" y2="0" stroke="#000" stroke-width="3.7"/><path d="M21.6,-4 h2.2 V-3.5 h4.2 a3.4,3.4 0 0 1 3.4,3.4 V-0.1 a3.4,3.4 0 0 1 -3.4,3.6 h-4.2 V4 h-2.2 Z" fill="#fff" stroke="#000" stroke-width="1.8" stroke-linejoin="miter"/></g><path d="M1585.7,1097.6 V1479.5 L1570.7,1494.5" fill="none" stroke="#000" stroke-width="2.6" stroke-linejoin="miter"/><g transform="translate(1585.7,1121.0) rotate(135)"><line x1="0" y1="0" x2="22.1" y2="0" stroke="#000" stroke-width="3.7"/><path d="M21.6,-4 h2.2 V-3.5 h4.2 a3.4,3.4 0 0 1 3.4,3.4 V-0.1 a3.4,3.4 0 0 1 -3.4,3.6 h-4.2 V4 h-2.2 Z" fill="#fff" stroke="#000" stroke-width="1.8" stroke-linejoin="miter"/></g><g transform="translate(1585.7,1162.5) rotate(45)"><line x1="0" y1="0" x2="22.1" y2="0" stroke="#000" stroke-width="3.7"/><path d="M21.6,-4 h2.2 V-3.5 h4.2 a3.4,3.4 0 0 1 3.4,3.4 V-0.1 a3.4,3.4 0 0 1 -3.4,3.6 h-4.2 V4 h-2.2 Z" fill="#fff" stroke="#000" stroke-width="1.8" stroke-linejoin="miter"/></g><g transform="translate(1585.7,1207.5) rotate(135)"><line x1="0" y1="0" x2="22.1" y2="0" stroke="#000" stroke-width="3.7"/><path d="M21.6,-4 h2.2 V-3.5 h4.2 a3.4,3.4 0 0 1 3.4,3.4 V-0.1 a3.4,3.4 0 0 1 -3.4,3.6 h-4.2 V4 h-2.2 Z" fill="#fff" stroke="#000" stroke-width="1.8" stroke-linejoin="miter"/></g><g transform="translate(1585.7,1256.0) rotate(45)"><line x1="0" y1="0" x2="22.1" y2="0" stroke="#000" stroke-width="3.7"/><path d="M21.6,-4 h2.2 V-3.5 h4.2 a3.4,3.4 0 0 1 3.4,3.4 V-0.1 a3.4,3.4 0 0 1 -3.4,3.6 h-4.2 V4 h-2.2 Z" fill="#fff" stroke="#000" stroke-width="1.8" stroke-linejoin="miter"/></g><g transform="translate(1585.7,1298.5) rotate(135)"><line x1="0" y1="0" x2="22.1" y2="0" stroke="#000" stroke-width="3.7"/><path d="M21.6,-4 h2.2 V-3.5 h4.2 a3.4,3.4 0 0 1 3.4,3.4 V-0.1 a3.4,3.4 0 0 1 -3.4,3.6 h-4.2 V4 h-2.2 Z" fill="#fff" stroke="#000" stroke-width="1.8" stroke-linejoin="miter"/></g><g transform="translate(1585.7,1344.5) rotate(45)"><line x1="0" y1="0" x2="22.1" y2="0" stroke="#000" stroke-width="3.7"/><path d="M21.6,-4 h2.2 V-3.5 h4.2 a3.4,3.4 0 0 1 3.4,3.4 V-0.1 a3.4,3.4 0 0 1 -3.4,3.6 h-4.2 V4 h-2.2 Z" fill="#fff" stroke="#000" stroke-width="1.8" stroke-linejoin="miter"/></g><g transform="translate(1585.7,1391.0) rotate(135)"><line x1="0" y1="0" x2="22.1" y2="0" stroke="#000" stroke-width="3.7"/><path d="M21.6,-4 h2.2 V-3.5 h4.2 a3.4,3.4 0 0 1 3.4,3.4 V-0.1 a3.4,3.4 0 0 1 -3.4,3.6 h-4.2 V4 h-2.2 Z" fill="#fff" stroke="#000" stroke-width="1.8" stroke-linejoin="miter"/></g><g transform="translate(1585.7,1433.5) rotate(45)"><line x1="0" y1="0" x2="22.1" y2="0" stroke="#000" stroke-width="3.7"/><path d="M21.6,-4 h2.2 V-3.5 h4.2 a3.4,3.4 0 0 1 3.4,3.4 V-0.1 a3.4,3.4 0 0 1 -3.4,3.6 h-4.2 V4 h-2.2 Z" fill="#fff" stroke="#000" stroke-width="1.8" stroke-linejoin="miter"/></g><g transform="translate(1585.7,1479.5) rotate(135)"><line x1="0" y1="0" x2="22.1" y2="0" stroke="#000" stroke-width="3.7"/><path d="M21.6,-4 h2.2 V-3.5 h4.2 a3.4,3.4 0 0 1 3.4,3.4 V-0.1 a3.4,3.4 0 0 1 -3.4,3.6 h-4.2 V4 h-2.2 Z" fill="#fff" stroke="#000" stroke-width="1.8" stroke-linejoin="miter"/></g><path d="M1651.4,1097.6 V1207.5 L1636.4,1222.5" fill="none" stroke="#000" stroke-width="2.6" stroke-linejoin="miter"/><g transform="translate(1651.4,1121.0) rotate(135)"><line x1="0" y1="0" x2="22.1" y2="0" stroke="#000" stroke-width="3.7"/><path d="M21.6,-4 h2.2 V-3.5 h4.2 a3.4,3.4 0 0 1 3.4,3.4 V-0.1 a3.4,3.4 0 0 1 -3.4,3.6 h-4.2 V4 h-2.2 Z" fill="#fff" stroke="#000" stroke-width="1.8" stroke-linejoin="miter"/></g><g transform="translate(1651.4,1162.5) rotate(45)"><line x1="0" y1="0" x2="22.1" y2="0" stroke="#000" stroke-width="3.7"/><path d="M21.6,-4 h2.2 V-3.5 h4.2 a3.4,3.4 0 0 1 3.4,3.4 V-0.1 a3.4,3.4 0 0 1 -3.4,3.6 h-4.2 V4 h-2.2 Z" fill="#fff" stroke="#000" stroke-width="1.8" stroke-linejoin="miter"/></g><g transform="translate(1651.4,1207.5) rotate(135)"><line x1="0" y1="0" x2="22.1" y2="0" stroke="#000" stroke-width="3.7"/><path d="M21.6,-4 h2.2 V-3.5 h4.2 a3.4,3.4 0 0 1 3.4,3.4 V-0.1 a3.4,3.4 0 0 1 -3.4,3.6 h-4.2 V4 h-2.2 Z" fill="#fff" stroke="#000" stroke-width="1.8" stroke-linejoin="miter"/></g><path d="M1717.8,1097.6 V1298.5 L1702.8,1313.5" fill="none" stroke="#000" stroke-width="2.6" stroke-linejoin="miter"/><g transform="translate(1717.8,1162.5) rotate(45)"><line x1="0" y1="0" x2="22.1" y2="0" stroke="#000" stroke-width="3.7"/><path d="M21.6,-4 h2.2 V-3.5 h4.2 a3.4,3.4 0 0 1 3.4,3.4 V-0.1 a3.4,3.4 0 0 1 -3.4,3.6 h-4.2 V4 h-2.2 Z" fill="#fff" stroke="#000" stroke-width="1.8" stroke-linejoin="miter"/></g><g transform="translate(1717.8,1207.5) rotate(135)"><line x1="0" y1="0" x2="22.1" y2="0" stroke="#000" stroke-width="3.7"/><path d="M21.6,-4 h2.2 V-3.5 h4.2 a3.4,3.4 0 0 1 3.4,3.4 V-0.1 a3.4,3.4 0 0 1 -3.4,3.6 h-4.2 V4 h-2.2 Z" fill="#fff" stroke="#000" stroke-width="1.8" stroke-linejoin="miter"/></g><g transform="translate(1717.8,1256.0) rotate(45)"><line x1="0" y1="0" x2="22.1" y2="0" stroke="#000" stroke-width="3.7"/><path d="M21.6,-4 h2.2 V-3.5 h4.2 a3.4,3.4 0 0 1 3.4,3.4 V-0.1 a3.4,3.4 0 0 1 -3.4,3.6 h-4.2 V4 h-2.2 Z" fill="#fff" stroke="#000" stroke-width="1.8" stroke-linejoin="miter"/></g><g transform="translate(1717.8,1298.5) rotate(135)"><line x1="0" y1="0" x2="22.1" y2="0" stroke="#000" stroke-width="3.7"/><path d="M21.6,-4 h2.2 V-3.5 h4.2 a3.4,3.4 0 0 1 3.4,3.4 V-0.1 a3.4,3.4 0 0 1 -3.4,3.6 h-4.2 V4 h-2.2 Z" fill="#fff" stroke="#000" stroke-width="1.8" stroke-linejoin="miter"/></g><path d="M1790.1,1097.6 V1479.5 L1775.1,1494.5" fill="none" stroke="#000" stroke-width="2.6" stroke-linejoin="miter"/><g transform="translate(1790.1,1121.0) rotate(135)"><line x1="0" y1="0" x2="22.1" y2="0" stroke="#000" stroke-width="3.7"/><path d="M21.6,-4 h2.2 V-3.5 h4.2 a3.4,3.4 0 0 1 3.4,3.4 V-0.1 a3.4,3.4 0 0 1 -3.4,3.6 h-4.2 V4 h-2.2 Z" fill="#fff" stroke="#000" stroke-width="1.8" stroke-linejoin="miter"/></g><g transform="translate(1790.1,1162.5) rotate(45)"><line x1="0" y1="0" x2="22.1" y2="0" stroke="#000" stroke-width="3.7"/><path d="M21.6,-4 h2.2 V-3.5 h4.2 a3.4,3.4 0 0 1 3.4,3.4 V-0.1 a3.4,3.4 0 0 1 -3.4,3.6 h-4.2 V4 h-2.2 Z" fill="#fff" stroke="#000" stroke-width="1.8" stroke-linejoin="miter"/></g><g transform="translate(1790.1,1207.5) rotate(135)"><line x1="0" y1="0" x2="22.1" y2="0" stroke="#000" stroke-width="3.7"/><path d="M21.6,-4 h2.2 V-3.5 h4.2 a3.4,3.4 0 0 1 3.4,3.4 V-0.1 a3.4,3.4 0 0 1 -3.4,3.6 h-4.2 V4 h-2.2 Z" fill="#fff" stroke="#000" stroke-width="1.8" stroke-linejoin="miter"/></g><g transform="translate(1790.1,1256.0) rotate(45)"><line x1="0" y1="0" x2="22.1" y2="0" stroke="#000" stroke-width="3.7"/><path d="M21.6,-4 h2.2 V-3.5 h4.2 a3.4,3.4 0 0 1 3.4,3.4 V-0.1 a3.4,3.4 0 0 1 -3.4,3.6 h-4.2 V4 h-2.2 Z" fill="#fff" stroke="#000" stroke-width="1.8" stroke-linejoin="miter"/></g><g transform="translate(1790.1,1298.5) rotate(135)"><line x1="0" y1="0" x2="22.1" y2="0" stroke="#000" stroke-width="3.7"/><path d="M21.6,-4 h2.2 V-3.5 h4.2 a3.4,3.4 0 0 1 3.4,3.4 V-0.1 a3.4,3.4 0 0 1 -3.4,3.6 h-4.2 V4 h-2.2 Z" fill="#fff" stroke="#000" stroke-width="1.8" stroke-linejoin="miter"/></g><g transform="translate(1790.1,1344.5) rotate(45)"><line x1="0" y1="0" x2="22.1" y2="0" stroke="#000" stroke-width="3.7"/><path d="M21.6,-4 h2.2 V-3.5 h4.2 a3.4,3.4 0 0 1 3.4,3.4 V-0.1 a3.4,3.4 0 0 1 -3.4,3.6 h-4.2 V4 h-2.2 Z" fill="#fff" stroke="#000" stroke-width="1.8" stroke-linejoin="miter"/></g><g transform="translate(1790.1,1391.0) rotate(135)"><line x1="0" y1="0" x2="22.1" y2="0" stroke="#000" stroke-width="3.7"/><path d="M21.6,-4 h2.2 V-3.5 h4.2 a3.4,3.4 0 0 1 3.4,3.4 V-0.1 a3.4,3.4 0 0 1 -3.4,3.6 h-4.2 V4 h-2.2 Z" fill="#fff" stroke="#000" stroke-width="1.8" stroke-linejoin="miter"/></g><g transform="translate(1790.1,1433.5) rotate(45)"><line x1="0" y1="0" x2="22.1" y2="0" stroke="#000" stroke-width="3.7"/><path d="M21.6,-4 h2.2 V-3.5 h4.2 a3.4,3.4 0 0 1 3.4,3.4 V-0.1 a3.4,3.4 0 0 1 -3.4,3.6 h-4.2 V4 h-2.2 Z" fill="#fff" stroke="#000" stroke-width="1.8" stroke-linejoin="miter"/></g><g transform="translate(1790.1,1479.5) rotate(135)"><line x1="0" y1="0" x2="22.1" y2="0" stroke="#000" stroke-width="3.7"/><path d="M21.6,-4 h2.2 V-3.5 h4.2 a3.4,3.4 0 0 1 3.4,3.4 V-0.1 a3.4,3.4 0 0 1 -3.4,3.6 h-4.2 V4 h-2.2 Z" fill="#fff" stroke="#000" stroke-width="1.8" stroke-linejoin="miter"/></g><path d="M1445,1164.7 L1232.8,1193.9 L1445,1205.7" fill="none" stroke="#000" stroke-width="1.6"/><text x="1165.61" y="1198.9" font-size="24" fill="#111" textLength="49.25" lengthAdjust="spacingAndGlyphs">9cm</text><path d="M1657.70,1388.50 L1666.10,1379.90 L1666.10,1385.00 L1708.80,1385.00 L1708.80,1379.90 L1717.20,1388.50 L1708.80,1397.10 L1708.80,1392.00 L1666.10,1392.00 L1666.10,1397.10 Z" fill="#000" stroke="#000" stroke-width="2.0" stroke-linejoin="round"/><text x="1656.56" y="1428.0" font-size="24.5" fill="#111" textLength="64.2" lengthAdjust="spacingAndGlyphs">16cm</text><path d="M1849.10,1107.40 L1859.50,1115.70 L1852.90,1115.70 L1852.90,1490.00 L1859.50,1490.00 L1849.10,1498.30 L1838.70,1490.00 L1845.30,1490.00 L1845.30,1115.70 L1838.70,1115.70 Z" fill="#000" stroke="#000" stroke-width="2.0" stroke-linejoin="round"/><text x="1877.22" y="1297.5" font-size="24.5" fill="#111" textLength="58.55" lengthAdjust="spacingAndGlyphs">0,7m</text><text x="90.98" y="1111.2" font-size="41.5" fill="#111" textLength="334.14" lengthAdjust="spacingAndGlyphs">Mărimea LED-ului</text><rect x="360" y="1299.8" width="291.4" height="100.2" fill="#0e0e10"/><circle cx="255.5" cy="1350.3" r="125.5" fill="#fff" stroke="#000" stroke-width="2"/><text x="391.72" y="1340.5" font-size="30" fill="#fff" textLength="247.78" lengthAdjust="spacingAndGlyphs">LED-uri cu lumină</text><text x="391.72" y="1377.5" font-size="30" fill="#fff" textLength="128.28" lengthAdjust="spacingAndGlyphs">puternică</text><g fill="#fff" stroke="#000" stroke-width="1.9" stroke-linejoin="round" stroke-linecap="round"><path d="M97.9,1390.8 C101.9,1392.0 111.3,1397.3 121.7,1397.9 C132.1,1398.5 146.6,1395.0 160.4,1394.3 C174.2,1393.6 194.1,1393.8 204.4,1393.5 C214.7,1393.2 214.7,1394.2 222.0,1392.6 C229.3,1391.0 242.3,1385.8 248.5,1383.8 C254.7,1381.8 250.2,1380.7 259.0,1380.8 C267.8,1380.9 289.0,1384.1 301.3,1384.6 C313.6,1385.1 319.8,1383.1 333.0,1383.8 C346.2,1384.5 366.4,1386.8 380.5,1389.0 C394.6,1391.2 411.3,1395.7 417.5,1397.0 L399.9,1421.6 C393.7,1420.9 372.0,1418.7 362.9,1417.2 C353.8,1415.7 357.6,1414.0 345.3,1412.8 C333.0,1411.6 305.1,1409.8 289.0,1410.2 C272.9,1410.7 261.1,1413.9 248.5,1415.5 C235.9,1417.1 227.9,1418.3 213.2,1419.9 C198.5,1421.5 175.1,1425.0 160.4,1425.1 C145.7,1425.2 131.7,1421.1 125.2,1420.7 C118.8,1420.3 122.3,1422.2 121.7,1422.5 Z"/><path fill="none" d="M121.7,1397.9 C126.7,1398.6 139.3,1401.4 151.6,1402.3 C163.9,1403.2 182.4,1402.4 195.6,1403.1 C208.8,1403.8 219.1,1405.4 230.8,1406.7 C242.5,1408.0 256.3,1410.4 266.0,1411.0 C275.7,1411.6 285.2,1410.3 289.0,1410.2"/><path fill="none" d="M97.9,1390.8 C101.0,1392.7 108.9,1398.6 116.4,1402.3 C123.9,1406.0 134.0,1409.7 142.8,1412.8 C151.6,1415.9 160.4,1419.1 169.2,1420.7 C178.0,1422.3 186.8,1422.6 195.6,1422.5 C204.4,1422.4 217.6,1420.3 222.0,1419.9"/><path fill="none" d="M142.8,1404.9 C148.7,1404.8 166.3,1403.8 178.0,1404.0 C189.7,1404.2 201.4,1404.3 213.2,1405.8 C224.9,1407.3 236.8,1411.3 248.5,1412.8 C260.2,1414.3 277.8,1414.3 283.7,1414.6"/><path fill="none" d="M222.0,1392.6 C226.4,1392.8 241.2,1392.6 248.5,1393.5 C255.8,1394.4 260.1,1396.0 266.0,1397.9 C271.9,1399.8 277.8,1402.7 283.7,1404.9 C289.6,1407.1 291.0,1409.7 301.3,1411.0 C311.6,1412.3 328.9,1412.5 345.3,1412.8 C361.7,1413.1 390.8,1412.8 399.9,1412.8"/><path fill="none" d="M259.0,1380.8 C261.6,1381.6 269.3,1383.5 274.9,1385.5 C280.5,1387.5 285.2,1390.2 292.5,1392.6 C299.8,1394.9 308.6,1397.2 318.9,1399.6 C329.2,1401.9 340.3,1404.5 354.1,1406.7 C367.9,1408.9 393.7,1411.8 401.6,1412.8"/><path fill="none" d="M297.7,1384.6 C302.7,1385.8 316.8,1389.0 327.7,1391.7 C338.6,1394.4 350.9,1398.3 362.9,1400.5 C374.9,1402.7 393.7,1404.2 399.9,1404.9"/><path fill="none" d="M333.0,1384.6 C338.0,1385.6 353.5,1388.6 362.9,1390.8 C372.3,1393.0 380.8,1396.1 389.3,1397.9 C397.8,1399.7 409.9,1400.8 414.0,1401.4"/><path fill="none" d="M345.3,1406.7 C349.7,1407.0 362.6,1408.1 371.7,1408.5 C380.8,1408.9 395.2,1409.2 399.9,1409.3"/></g><g fill="#fff" stroke="#000"><path d="M243.4,1378.3 V1230.8 H268.4 V1378.3 Z" stroke-width="1.8"/><path d="M240.3,1213.2 V1197.4 A15.8,15.8 0 0 1 271.9,1197.4 V1213.2" stroke-width="2"/><path d="M243.6,1208.6 V1198 A12.5,12.5 0 0 1 268.3,1193.5" fill="none" stroke-width="1.1"/><rect x="237.1" y="1213.2" width="37.3" height="17.5" stroke-width="2.2"/></g><path d="M239.20,1167.50 L247.20,1160.80 L247.20,1165.80 L265.70,1165.80 L265.70,1160.80 L273.70,1167.50 L265.70,1174.20 L265.70,1169.20 L247.20,1169.20 L247.20,1174.20 Z" fill="#000" stroke="#000" stroke-width="2.0" stroke-linejoin="round"/><text x="234.9" y="1152.0" font-size="19.7" fill="#111" textLength="48.23" lengthAdjust="spacingAndGlyphs">5mm</text><path d="M288.10,1179.10 L295.10,1186.60 L290.10,1186.60 L290.10,1204.90 L295.10,1204.90 L288.10,1212.40 L281.10,1204.90 L286.10,1204.90 L286.10,1186.60 L281.10,1186.60 Z" fill="#000" stroke="#000" stroke-width="2.0" stroke-linejoin="round"/><text x="299.7" y="1200.8" font-size="19.7" fill="#111" textLength="47.91" lengthAdjust="spacingAndGlyphs">5mm</text><path d="M212.50,1213.60 L220.10,1221.60 L214.50,1221.60 L214.50,1368.80 L220.10,1368.80 L212.50,1376.80 L204.90,1368.80 L210.50,1368.80 L210.50,1221.60 L204.90,1221.60 Z" fill="#000" stroke="#000" stroke-width="2.0" stroke-linejoin="round"/><text x="147.44" y="1307.4" font-size="20" fill="#111" textLength="59.04" lengthAdjust="spacingAndGlyphs">25mm</text><text x="213.28" y="1629.7" font-size="41" fill="#111" textLength="1575.94" lengthAdjust="spacingAndGlyphs">*Dimensiunile produsului sunt aproximative și variază din cauza îndoiturilor din cablu.</text><defs><filter id="lb2" x="-10%" y="-10%" width="120%" height="120%"><feGaussianBlur stdDeviation="2"/></filter></defs><g><path d="M55,446 C52,415 62,392 80,380 C100,366 130,357 152,356 C175,355 195,362 217,371 C240,374 262,369 285,372 C305,376 320,390 324,412 C327,440 325,470 311,490 C305,498 300,500 296,500 L238,503 C225,503 215,504 209,505 C195,508 185,511 180,513 C160,519 150,523 137,523 C120,524 108,522 100,518 C88,512 78,502 72,490 C62,475 56,460 55,446 Z" fill="#000" fill-opacity="0.22" transform="translate(0.5,1.5)" filter="url(#lb2)"/><path d="M55,446 C52,415 62,392 80,380 C100,366 130,357 152,356 C175,355 195,362 217,371 C240,374 262,369 285,372 C305,376 320,390 324,412 C327,440 325,470 311,490 C305,498 300,500 296,500 L238,503 C225,503 215,504 209,505 C195,508 185,511 180,513 C160,519 150,523 137,523 C120,524 108,522 100,518 C88,512 78,502 72,490 C62,475 56,460 55,446 Z" fill="#dadada"/><defs><filter id="lb" x="-10%" y="-10%" width="120%" height="120%"><feGaussianBlur stdDeviation="1.6"/></filter><clipPath id="cmid"><path d="M73,450 C71,425 78,406 96,394 C112,383 132,380 152,379 C172,379 190,383 210,378 C228,374 248,374 262,384 C268,390 272,393 278,396 C292,402 304,418 309,440 C312,462 308,480 300,492 L240,500 C200,505 160,515 130,517 C105,518 88,505 80,490 C75,480 73,466 73,450 Z"/></clipPath><clipPath id="csky"><path d="M97,452 C95,432 100,418 112,408 C128,396 150,390 173,390 C195,390 215,396 238,402 C252,405 262,400 275,402 C290,405 302,420 305,440 C307,460 304,478 296,490 L150,505 C120,500 100,480 97,452 Z"/></clipPath></defs><path d="M73,450 C71,425 78,406 96,394 C112,383 132,380 152,379 C172,379 190,383 210,378 C228,374 248,374 262,384 C268,390 272,393 278,396 C292,402 304,418 309,440 C312,462 308,480 300,492 L240,500 C200,505 160,515 130,517 C105,518 88,505 80,490 C75,480 73,466 73,450 Z" fill="#cdcdcd"/><path d="M73,450 C71,425 78,406 96,394 C112,383 132,380 152,379 C172,379 190,383 210,378 C228,374 248,374 262,384 C268,390 272,393 278,396 C292,402 304,418 309,440 C312,462 308,480 300,492 L240,500 C200,505 160,515 130,517 C105,518 88,505 80,490 C75,480 73,466 73,450 Z" fill="none" stroke="#8a8a8a" stroke-width="5" stroke-opacity="0.55" clip-path="url(#cmid)" filter="url(#lb)"/><path d="M97,452 C95,432 100,418 112,408 C128,396 150,390 173,390 C195,390 215,396 238,402 C252,405 262,400 275,402 C290,405 302,420 305,440 C307,460 304,478 296,490 L150,505 C120,500 100,480 97,452 Z" fill="#b6b6b6"/><path d="M97,452 C95,432 100,418 112,408 C128,396 150,390 173,390 C195,390 215,396 238,402 C252,405 262,400 275,402 C290,405 302,420 305,440 C307,460 304,478 296,490 L150,505 C120,500 100,480 97,452 Z" fill="none" stroke="#7a7a7a" stroke-width="5" stroke-opacity="0.55" clip-path="url(#csky)" filter="url(#lb)"/><path d="M180,470 C200,462 230,458 260,470 C275,476 290,478 305,470 L305,495 L180,500 Z" fill="#c9c9c9"/><path d="M120,500 C140,490 160,475 175,470 C185,490 190,505 180,513 L130,518 Z" fill="#d2d2d2"/><path d="M100,506 C130,500 165,496 200,498 C235,500 270,496 306,486 L311,490 C305,498 300,500 296,500 L238,503 C225,503 215,504 209,505 C195,508 185,511 180,513 C160,519 150,523 137,523 C120,524 108,522 100,518 Z" fill="#eeeeee"/><path d="M295,437 L305.5,460.8 L301.0,460.8 L310.0,484.6 L304.0,484.6 L313.0,505 L277.0,505 L286.0,484.6 L280.0,484.6 L289.0,460.8 L284.5,460.8 Z" fill="#efefef"/><path d="M272,448 L279.7,465.5 L276.4,465.5 L283.0,483.0 L278.6,483.0 L285.2,498 L258.8,498 L265.4,483.0 L261.0,483.0 L267.6,465.5 L264.3,465.5 Z" fill="#efefef"/><path d="M315,460 L320.6,474.0 L318.2,474.0 L323.0,488.0 L319.8,488.0 L324.6,500 L305.4,500 L310.2,488.0 L307.0,488.0 L311.8,474.0 L309.4,474.0 Z" fill="#efefef"/><path d="M250,460 L254.2,469.8 L252.4,469.8 L256.0,479.6 L253.6,479.6 L257.2,488 L242.8,488 L246.4,479.6 L244.0,479.6 L247.6,469.8 L245.8,469.8 Z" fill="#efefef"/><rect x="294" y="480" width="2" height="25" fill="#e6e6e6"/><path d="M72,457 L80,470 L77,470 L84,480 L80,480 L86,490 L58,490 L64,480 L60,480 L67,470 L64,470 Z" fill="#f0f0f0"/><path d="M88,485 L95,478 L133,478 L135,495 L88,495 Z" fill="#f4f4f4"/><rect x="89" y="494" width="43" height="25" fill="#f2f2f2"/><rect x="120" y="473" width="5" height="6" fill="#eeeeee"/><path d="M95,502 h6 v9 h-6 Z M108,502 h6 v9 h-6 Z" fill="#c8c8c8"/><path d="M183,462 L180,455 L176,452 L181,453 L183,449 L185,455 L189,457 L191,452 L194,450 L193,456 L196,458 L191,462 L193,467 L190,475 L214,477 L220,484 L218,498 L215,510 L212,510 L212,497 L196,497 L193,512 L189,512 L188,492 L185,478 L181,470 Z" fill="#f1f1f1"/><path d="M125,462 L123,455 L120,452 L124,453 L126,450 L128,456 L131,455 L133,451 L135,453 L133,458 L130,462 L131,470 L128,486 L124,486 L124,470 Z" fill="#d6d6d6"/><path d="M226,503 C226,492 236,490 240,493 C244,486 256,486 258,493 C262,487 275,488 277,494 C282,490 290,494 288,503 Z" fill="#f4f4f4"/><path d="M135,515 C138,508 146,506 150,509 C154,503 164,504 166,509 C170,506 178,507 178,512 L165,520 C150,524 140,522 135,515 Z" fill="#f4f4f4"/><path d="M136,411 A6,6 0 1 0 142,421 A5,5 0 1 1 136,411 Z" fill="#e8e8e8"/><path d="M90,433 C92,428 98,427 101,429 C104,425 111,425 113,430 L118,433 Z" fill="#d8d8d8"/><path d="M243,398 C246,393 252,393 255,395 C258,391 264,392 266,396 L270,398 Z" fill="#dedede"/><circle cx="154" cy="363" r="1" fill="#f4f4f4"/><circle cx="107" cy="383" r="1" fill="#f4f4f4"/><circle cx="70" cy="423" r="1" fill="#f4f4f4"/><circle cx="128" cy="386" r="0.8" fill="#f4f4f4"/><circle cx="160" cy="400" r="0.9" fill="#f4f4f4"/><circle cx="212" cy="415" r="1.5" fill="#f4f4f4"/><circle cx="267" cy="415" r="1.5" fill="#f4f4f4"/><circle cx="225" cy="441" r="0.9" fill="#f4f4f4"/><circle cx="153" cy="449" r="0.9" fill="#f4f4f4"/><circle cx="88" cy="452" r="1.3" fill="#f4f4f4"/><circle cx="277" cy="378" r="0.9" fill="#f4f4f4"/><circle cx="304" cy="411" r="0.9" fill="#f4f4f4"/></g><g fill="none" stroke="#8e8e8e" stroke-width="1.5" stroke-linecap="butt"><path d="M207.8,546.6 V522 H223.3 M207.8,534.2 H222.7"/><path d="M229.5,522 V546 H245.7"/><path d="M250,522 V546.6"/><path d="M257.5,546.6 V522 M261,522 H268 C273,522 275.5,525 275.5,530 C275.5,535 273,538 268,538 H257.5"/><path d="M281.4,546.6 V527 M281.4,522 H292 C297,522 299.7,525 299.7,530 C299.7,535 297,538 292,538 H284.5 V532"/><path d="M303,522 L314,535 L324,522 M314,535 V546.6"/><circle cx="322" cy="544.8" r="2.2" stroke-width="0.8"/></g><g fill="none" stroke="#aaaaaa" stroke-linecap="round" stroke-linejoin="round"><path d="M171,566 C163,566 158,575 158.5,585 C159,594 164,598 170,596" stroke-width="7.5"/><path d="M170,596 C175,594 180,590 184,586" stroke-width="3"/><path d="M182.5,596 C182,580 184,560 188,551.5 C191,546 197,549 195,559 C193,571 189,585 188.5,596" stroke-width="5"/><path d="M187,580 C191,572 197,569 200,573 C203,578 201,590 203,597" stroke-width="6.5"/><path d="M203,597 C205,588 206,575 208,567 C210,562 214,562 213,567 C212,572 210,576 214,579 C217,580 219,578 221,575" stroke-width="5"/><path d="M221,575 C224,572 226,571 226,574 C225,582 221,590 222,594 C224,598 232,595 238,588" stroke-width="5.5"/><path d="M238,588 C243,585 246,578 250,569 C253,561 260,557 262,562 C264,567 257,573 257,579 C257,585 265,589 264,594 C263,599 255,600 248,596" stroke-width="5.5"/><path d="M284,553 C283,565 281,580 281.5,597" stroke-width="7.5"/><path d="M266,574.5 C275,575 283,575.5 290,575" stroke-width="3.5"/><path d="M262,594 C268,597 276,598 281.5,597 C286,596 291,594 295,594 C296,585 296,575 296,568 C300,565 306,564 310,567 C311,577 310,586 310.5,593 M310,570 C314,566 320,563 324,565 C325,575 323,586 323.5,594 C326,596 330,594 334,590" stroke-width="6"/><path d="M351,571 C347,565 340,566 337,574 C335,582 337,593 343,594 C348,594 351,588 352,580 C352,586 352,592 355,594 C358,595 361,592 363,588" stroke-width="6.5"/><path d="M363,588 C366,580 367,572 369,565 C371,559 378,556 379,561 C380,566 371,572 371,578 C371,584 382,588 383,594 C383,600 375,601 368,598" stroke-width="5.5"/><path d="M366,579 C372,578.5 378,578.5 385,578.5" stroke-width="3"/><circle cx="237.5" cy="566.5" r="2.6" fill="#aaaaaa" stroke="none"/></g>
</svg>
</body></html>
